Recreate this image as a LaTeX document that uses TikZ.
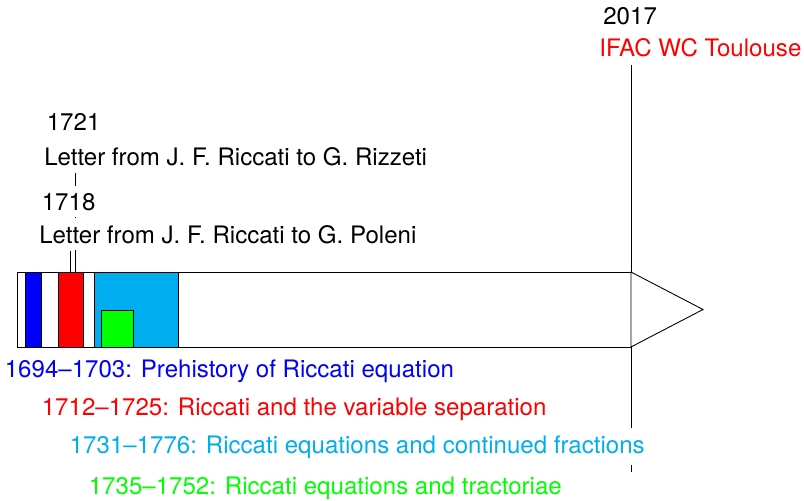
\documentclass[tikz,border=0pt]{standalone}
\usepackage{fontspec}
\setmainfont{TeX Gyre Heros}
\usepackage{xcolor}
\usepackage{tikz}
\usetikzlibrary{backgrounds}
\definecolor{tblue}{HTML}{0000FF}
\definecolor{tred}{HTML}{FF0000}
\definecolor{tcyan}{HTML}{00AEEF}
\definecolor{tgreen}{HTML}{00FF00}
\newcommand{\yr}[1]{17.5+1.876*(#1-1690)}

\begin{document}
\begin{tikzpicture}[x=0.02cm, y=-0.02cm, font=\fontsize{13.7}{16}\selectfont,
  lbl/.style={anchor=base west, inner xsep=0pt, inner ysep=4pt, fill=white},
  era/.style={draw, line width=0.5pt},
  yearline/.style={line width=0.5pt}]
\useasboundingbox (0,0) rectangle (804,500);
\draw[era, fill=white] ({\yr{1690}},272) rectangle ({\yr{2017}},347);
\draw[era, fill=tblue] ({\yr{1694}},272) rectangle ({\yr{1703}},347);
\draw[era, fill=tred] ({\yr{1712}},272) rectangle ({\yr{1725}},347);
\draw[era, fill=tcyan] ({\yr{1731}},272) rectangle ({\yr{1776}},347);
\draw[era, fill=tgreen] ({\yr{1735}},310) rectangle ({\yr{1752}},347);
\draw[era, fill=white] ({\yr{2017}},272) -- (703,309.5) -- ({\yr{2017}},347) -- cycle;
\coordinate (b1718) at ({\yr{1718}},272);
\coordinate (b1721) at ({\yr{1721}},272);
\coordinate (b2017) at ({\yr{2017}},472);
\node[lbl] (y2017) at (603,25) {2017};
\node[lbl, text=tred] (e2017) at (599,57) {IFAC WC Toulouse};
\node[lbl] (y1721) at (46.5,131) {1721};
\node[lbl] (e1721) at (44,165) {Letter from J. F. Riccati to G. Rizzeti};
\node[lbl] (y1718) at (41.5,210) {1718};
\node[lbl] (e1718) at (39,243) {Letter from J. F. Riccati to G. Poleni};
\node[lbl, text=tblue] (pre) at (4.5,377) {1694--1703: Prehistory of Riccati equation};
\node[lbl, text=tred] (sep) at (41.5,415) {1712--1725: Riccati and the variable separation};
\node[lbl, text=tcyan] (frac) at (69.5,453) {1731--1776: Riccati equations and continued fractions};
\node[lbl, text=tgreen] (trac) at (88.5,494) {1735--1752: Riccati equations and tractoriae};
\begin{scope}[on background layer]
\draw[yearline] (b1718) -- (b1718 |- e1718.south);
\draw[yearline] (b1721) -- (b1721 |- e1721.south);
\draw[yearline] (b2017) -- (b2017 |- e2017.south);
\end{scope}
\end{tikzpicture}
\end{document}
